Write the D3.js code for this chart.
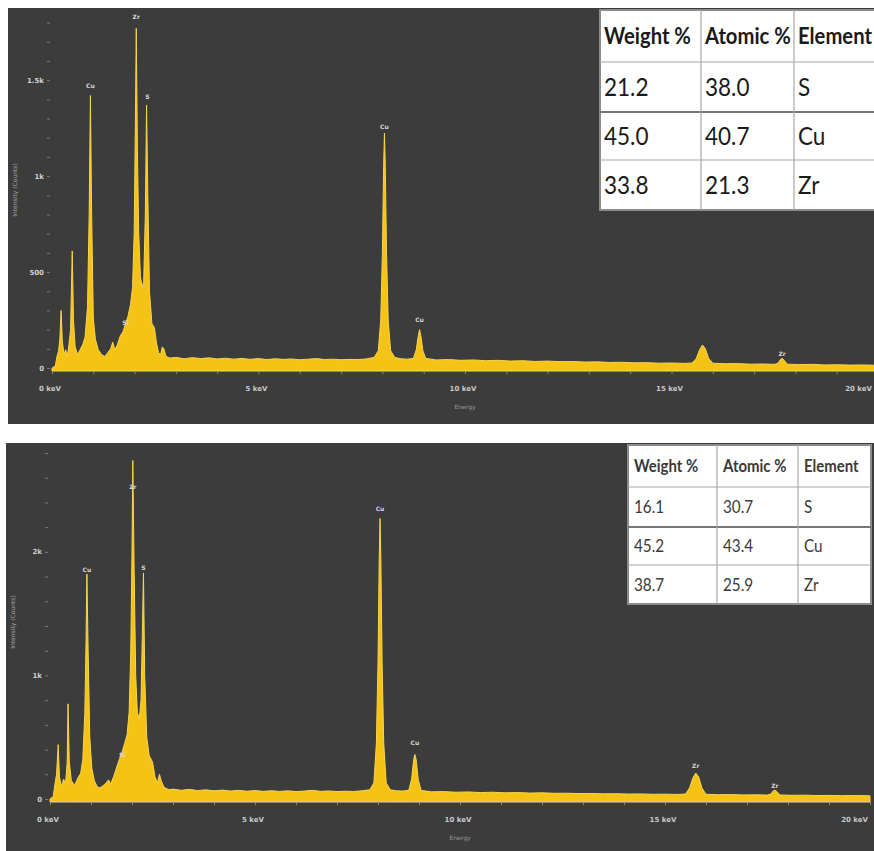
<!DOCTYPE html>
<html>
<head>
<meta charset="utf-8">
<script src="https://cdn.jsdelivr.net/npm/d3@7"></script>
<style>
  body { margin: 0; background: #fff; }
  svg { display: block; }
</style>
</head>
<body>
<svg id="eds" width="874" height="851"></svg>
<script>
// --- data: [energy keV, counts] ---
const spectrumTop = [
  [0.0, 0], [0.08, 10], [0.12, 60], [0.16, 90], [0.19, 150], [0.22, 300], [0.25, 140],
  [0.29, 70], [0.33, 95], [0.37, 60], [0.41, 120], [0.45, 200], [0.49, 610], [0.52, 250],
  [0.56, 110], [0.62, 70], [0.68, 95], [0.74, 120], [0.8, 160], [0.86, 320], [0.9, 800],
  [0.93, 1420], [0.96, 800], [1.0, 260], [1.05, 150], [1.12, 95], [1.2, 70], [1.28, 60],
  [1.35, 80], [1.42, 100], [1.47, 135], [1.52, 95], [1.58, 120], [1.65, 165], [1.72, 190],
  [1.78, 230], [1.84, 270], [1.9, 330], [1.95, 420], [1.99, 700], [2.02, 1300], [2.04, 1770],
  [2.07, 1100], [2.1, 700], [2.14, 480], [2.18, 420], [2.22, 450], [2.26, 800], [2.29, 1370],
  [2.32, 900], [2.36, 400], [2.42, 230], [2.48, 210], [2.53, 130], [2.58, 80], [2.63, 70],
  [2.67, 110], [2.71, 100], [2.76, 60], [2.85, 52], [3.0, 55], [3.2, 48], [3.4, 54],
  [3.6, 49], [3.8, 53], [4.0, 47], [4.2, 51], [4.4, 46], [4.6, 50], [4.8, 45], [5.0, 49],
  [5.2, 44], [5.4, 48], [5.6, 45], [5.8, 47], [6.0, 43], [6.2, 46], [6.4, 49], [6.6, 44],
  [6.8, 46], [7.0, 43], [7.2, 45], [7.4, 44], [7.6, 47], [7.8, 55], [7.9, 90], [7.96, 250],
  [8.0, 600], [8.03, 1050], [8.05, 1224], [8.07, 1050], [8.1, 600], [8.14, 250], [8.2, 90],
  [8.3, 55], [8.45, 48], [8.6, 46], [8.75, 50], [8.82, 95], [8.87, 170], [8.9, 200],
  [8.93, 170], [8.98, 90], [9.05, 50], [9.3, 42], [9.6, 44], [9.9, 40], [10.2, 42],
  [10.5, 38], [10.8, 40], [11.1, 36], [11.4, 38], [11.7, 34], [12.0, 36], [12.3, 33],
  [12.6, 34], [12.9, 31], [13.2, 32], [13.5, 29], [13.8, 30], [14.1, 27], [14.4, 28],
  [14.7, 25], [15.0, 26], [15.3, 24], [15.5, 26], [15.6, 50], [15.68, 95], [15.75, 120],
  [15.82, 100], [15.9, 50], [16.0, 25], [16.3, 22], [16.6, 23], [16.9, 20], [17.2, 21],
  [17.5, 19], [17.58, 25], [17.64, 45], [17.68, 50], [17.73, 40], [17.8, 20], [18.1, 18],
  [18.4, 19], [18.7, 16], [19.0, 17], [19.3, 15], [19.6, 16], [20.0, 14]
];

const spectrumBottom = [
  [0.0, 0], [0.08, 20], [0.12, 120], [0.16, 200], [0.2, 440], [0.23, 180], [0.28, 100],
  [0.33, 160], [0.38, 130], [0.42, 300], [0.44, 770], [0.47, 300], [0.52, 150], [0.6, 110],
  [0.68, 170], [0.75, 210], [0.8, 320], [0.85, 700], [0.88, 1300], [0.9, 1820], [0.93, 1200],
  [0.97, 500], [1.02, 250], [1.08, 150], [1.15, 100], [1.22, 90], [1.3, 110], [1.37, 130],
  [1.43, 155], [1.48, 120], [1.55, 180], [1.62, 250], [1.7, 330], [1.76, 380], [1.82, 450],
  [1.88, 520], [1.93, 700], [1.97, 1200], [2.0, 2000], [2.02, 2740], [2.05, 1900],
  [2.09, 1000], [2.13, 700], [2.18, 650], [2.22, 800], [2.25, 1300], [2.28, 1830],
  [2.31, 1000], [2.36, 500], [2.42, 350], [2.5, 300], [2.56, 180], [2.62, 130],
  [2.67, 200], [2.71, 150], [2.78, 95], [2.9, 75], [3.0, 80], [3.2, 70], [3.4, 78],
  [3.6, 68], [3.8, 74], [4.0, 66], [4.2, 72], [4.4, 64], [4.6, 70], [4.8, 63], [5.0, 68],
  [5.2, 62], [5.4, 67], [5.6, 61], [5.8, 66], [6.0, 60], [6.2, 64], [6.4, 70], [6.6, 62],
  [6.8, 65], [7.0, 60], [7.2, 63], [7.4, 61], [7.6, 66], [7.8, 75], [7.9, 130],
  [7.96, 450], [8.0, 1100], [8.03, 1950], [8.05, 2270], [8.07, 1950], [8.1, 1100],
  [8.14, 450], [8.2, 130], [8.3, 75], [8.45, 66], [8.6, 64], [8.75, 70], [8.82, 160],
  [8.87, 320], [8.9, 360], [8.93, 320], [8.98, 160], [9.05, 70], [9.3, 58], [9.6, 60],
  [9.9, 55], [10.2, 57], [10.5, 52], [10.8, 55], [11.1, 50], [11.4, 52], [11.7, 48],
  [12.0, 50], [12.3, 46], [12.6, 47], [12.9, 44], [13.2, 45], [13.5, 42], [13.8, 43],
  [14.1, 40], [14.4, 41], [14.7, 38], [15.0, 39], [15.3, 37], [15.5, 40], [15.6, 90],
  [15.68, 170], [15.75, 210], [15.82, 180], [15.9, 90], [16.0, 38], [16.3, 35], [16.6, 36],
  [16.9, 33], [17.2, 34], [17.5, 32], [17.58, 40], [17.64, 65], [17.68, 72], [17.73, 60],
  [17.8, 33], [18.1, 30], [18.4, 31], [18.7, 28], [19.0, 29], [19.3, 27], [19.6, 28], [20.0, 26]
];

// peak labels: [element, keV, counts where the label sits]
const peakLabelsTop = [
  ["Cu", 0.93, 1460], ["Zr", 2.04, 1820], ["S", 2.31, 1400], ["Si", 1.78, 225],
  ["Cu", 8.05, 1245], ["Cu", 8.9, 240], ["Zr", 17.68, 60]
];
const peakLabelsBottom = [
  ["Cu", 0.9, 1840], ["Zr", 2.02, 2510], ["S", 2.28, 1850], ["Si", 1.76, 340],
  ["Cu", 8.05, 2330], ["Cu", 8.9, 440], ["Zr", 15.75, 250], ["Zr", 17.68, 85]
];

// axis ticks
const xTickLabels = [0, 5, 10, 15, 20];
const xMinorTicks = d3.range(0, 21, 1);
const yTickLabelsTop = [0, 500, 1000, 1500];
const yMinorTicksTop = d3.range(0, 1900, 100);
const yTickLabelsBottom = [0, 1000, 2000];
const yMinorTicksBottom = d3.range(0, 2900, 200);

// composition tables
const tableHeader = ["Weight %", "Atomic %", "Element"];
const elements = ["S", "Cu", "Zr"];
const weightTop = [21.2, 45.0, 33.8];
const atomicTop = [38.0, 40.7, 21.3];
const weightBottom = [16.1, 45.2, 38.7];
const atomicBottom = [30.7, 43.4, 25.9];

const svg = d3.select("#eds");
const pageW = 874;

function drawPanel(opt) {
  const g = svg.append("g");
  const clipId = "clip" + opt.id;
  svg.append("defs").append("clipPath").attr("id", clipId)
    .append("rect").attr("x", opt.box[0]).attr("y", opt.box[1])
    .attr("width", opt.box[2]).attr("height", opt.box[3]);

  g.attr("clip-path", `url(#${clipId})`);

  g.append("rect")
    .attr("x", opt.box[0]).attr("y", opt.box[1])
    .attr("width", opt.box[2]).attr("height", opt.box[3])
    .attr("fill", "#3c3c3c");

  const x = d3.scaleLinear().domain([0, 20]).range(opt.xRange);
  const y = d3.scaleLinear().domain(opt.yDomain).range(opt.yRange);

  // spectrum
  const area = d3.area()
    .x((d) => x(d[0]))
    .y0(opt.axisY)
    .y1((d) => y(d[1]));

  g.append("path")
    .datum(opt.spectrum)
    .attr("d", area)
    .attr("fill", "#f4c315")
    .attr("stroke", "#f8d54c")
    .attr("stroke-width", 1)
    .attr("stroke-linejoin", "round");

  // x axis
  const xAxis = g.append("g")
    .attr("transform", `translate(0,${opt.axisY})`)
    .call(d3.axisBottom(x).tickValues(opt.xMinor).tickSize(3).tickFormat(""));
  xAxis.select(".domain").attr("stroke", "#8a8a8a");
  xAxis.selectAll(".tick line").attr("stroke", "#8a8a8a");

  // last label pulled inside the page edge
  g.selectAll(".xlab")
    .data(opt.xLabels)
    .join("text")
    .attr("x", (d) => Math.min(x(d) - 2, pageW - 2))
    .attr("y", opt.axisY + 20)
    .attr("text-anchor", (d) => (x(d) - 2 + 12 > pageW ? "end" : "middle"))
    .attr("font-family", "DejaVu Sans, sans-serif")
    .attr("font-size", "7px")
    .attr("font-weight", "bold")
    .attr("fill", "#c8c8c8")
    .text((d) => `${d} keV`);

  g.append("text")
    .attr("x", x(10))
    .attr("y", opt.axisY + 38)
    .attr("text-anchor", "middle")
    .attr("font-family", "DejaVu Sans, sans-serif")
    .attr("font-size", "6px")
    .attr("fill", "#9a9a9a")
    .text("Energy");

  // y axis
  const yAxis = g.append("g")
    .attr("transform", `translate(${opt.xRange[0] - 2},0)`)
    .call(d3.axisLeft(y).tickValues(opt.yMinor).tickSize(3).tickFormat(""));
  yAxis.select(".domain").remove();
  yAxis.selectAll(".tick line").attr("stroke", "#7a7a7a");

  const fmt = (d) => (d >= 1000 ? d / 1000 + "k" : d);
  g.selectAll(".ylab")
    .data(opt.yLabels)
    .join("text")
    .attr("x", opt.xRange[0] - 8)
    .attr("y", (d) => y(d) + 2.5)
    .attr("text-anchor", "end")
    .attr("font-family", "DejaVu Sans, sans-serif")
    .attr("font-size", "7px")
    .attr("font-weight", "bold")
    .attr("fill", "#d0d0d0")
    .text(fmt);

  g.append("text")
    .attr("transform", `translate(${opt.titleX},${opt.titleY}) rotate(-90)`)
    .attr("text-anchor", "middle")
    .attr("font-family", "DejaVu Sans, sans-serif")
    .attr("font-size", "6px")
    .attr("fill", "#a8a8a8")
    .text("Intensity (Counts)");

  // peak labels
  g.selectAll(".plab")
    .data(opt.peaks)
    .join("text")
    .attr("x", (d) => x(d[1]))
    .attr("y", (d) => y(d[2]))
    .attr("text-anchor", "middle")
    .attr("font-family", "DejaVu Sans, sans-serif")
    .attr("font-size", "6px")
    .attr("font-weight", "bold")
    .attr("fill", "#d8d8d8")
    .text((d) => d[0]);

  // table
  const t = opt.table;
  const tg = g.append("g");
  tg.append("rect")
    .attr("x", t.x).attr("y", t.y)
    .attr("width", t.w).attr("height", t.rows[t.rows.length - 1] - t.y)
    .attr("fill", "#fff")
    .attr("stroke", "#8c8c8c")
    .attr("stroke-width", 2);

  t.rows.slice(0, -1).forEach((ry, i) => {
    tg.append("line")
      .attr("x1", t.x).attr("x2", t.x + t.w)
      .attr("y1", ry).attr("y2", ry)
      .attr("stroke", i === 1 ? "#777" : "#a8a8a8")
      .attr("stroke-width", i === 1 ? 2 : 1.2);
  });
  t.cols.forEach((cx) => {
    tg.append("line")
      .attr("x1", cx).attr("x2", cx)
      .attr("y1", t.y).attr("y2", t.rows[t.rows.length - 1])
      .attr("stroke", "#a8a8a8")
      .attr("stroke-width", 1.2);
  });

  const colX = [t.x, ...t.cols];
  const rowTop = [t.y, ...t.rows];
  // narrow, Calibri-like text: squeeze horizontally
  const cell = (tx, ty, txt, size, bold, sx) =>
    tg.append("text")
      .attr("transform", `translate(${tx},${ty}) scale(${sx},1)`)
      .attr("dy", "0.36em")
      .attr("font-family", "Lato, sans-serif")
      .attr("font-weight", bold ? "bold" : "normal")
      .attr("font-size", size)
      .attr("fill", t.color)
      .text(txt);

  tableHeader.forEach((h, j) => {
    cell(colX[j] + t.pad, (rowTop[0] + rowTop[1]) / 2, h, t.headSize, true, t.headScale);
  });
  elements.forEach((el, i) => {
    const cells = [t.weight[i].toFixed(1), t.atomic[i].toFixed(1), el];
    cells.forEach((c, j) => {
      cell(colX[j] + t.pad, (rowTop[i + 1] + rowTop[i + 2]) / 2, c, t.cellSize, false, t.cellScale);
    });
  });
}

drawPanel({
  id: "top",
  box: [8, 8, 880, 416],
  spectrum: spectrumTop,
  peaks: peakLabelsTop,
  xRange: [52, 878],
  yDomain: [0, 1850],
  yRange: [368, 13],
  axisY: 371,
  xMinor: xMinorTicks,
  xLabels: xTickLabels,
  yMinor: yMinorTicksTop,
  yLabels: yTickLabelsTop,
  titleX: 17,
  titleY: 190,
  table: {
    x: 600, y: 10, w: 300,
    rows: [62, 112, 160, 210],
    cols: [701, 794],
    pad: 4, headSize: "22px", cellSize: "25px", color: "#1a1a1a",
    headScale: 0.92, cellScale: 0.9,
    weight: weightTop, atomic: atomicTop
  }
});

drawPanel({
  id: "bottom",
  box: [6, 443, 880, 410],
  spectrum: spectrumBottom,
  peaks: peakLabelsBottom,
  xRange: [50, 870],
  yDomain: [0, 2800],
  yRange: [799, 453],
  axisY: 802,
  xMinor: xMinorTicks,
  xLabels: xTickLabels,
  yMinor: yMinorTicksBottom,
  yLabels: yTickLabelsBottom,
  titleX: 15,
  titleY: 622,
  table: {
    x: 628, y: 445, w: 243,
    rows: [487, 527, 565, 604],
    cols: [717, 798],
    pad: 6, headSize: "17px", cellSize: "18px", color: "#3a3a3a",
    headScale: 0.88, cellScale: 0.85,
    weight: weightBottom, atomic: atomicBottom
  }
});
</script>
</body>
</html>
